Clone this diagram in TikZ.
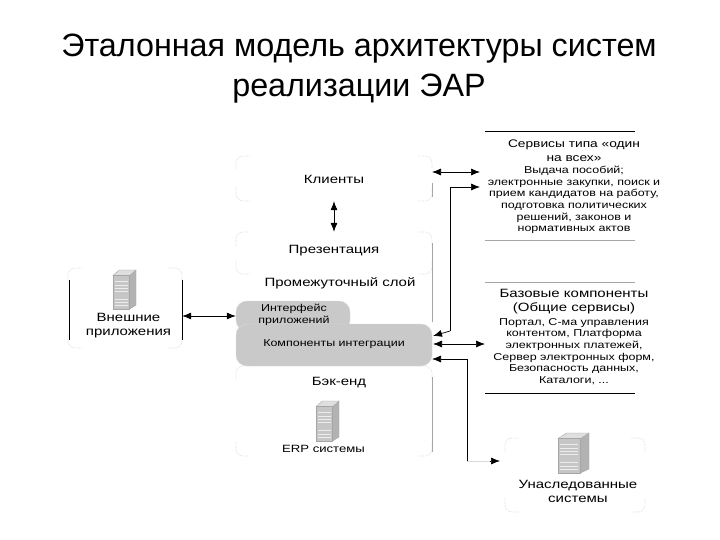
\documentclass[tikz,border=0pt]{standalone}
\usepackage{fontspec}
\setmainfont{Liberation Sans}
\newfontfamily\widefont[FakeStretch=1.25]{Liberation Sans}
\usetikzlibrary{arrows.meta}

\tikzset{
    area/.style={minimum width=#1, inner sep=0pt},
    label/.style={align=center, font=\widefont\fontsize{12}{14}\selectfont},
    small/.style={align=center, font=\widefont\fontsize{10}{11.7}\selectfont},
    fuzzy/.style={gray!30, densely dotted, line width=0.7pt, rounded corners=7pt},
    edge/.style={gray!70, line width=0.5pt},
    conn/.style={<->, line width=0.7pt},
    wire/.style={->, line width=0.7pt},
    rule/.style={line width=0.7pt},
    graybox/.style={fill=gray!42, draw=gray!30, rounded corners=11pt, inner sep=0pt},
    pics/server/.style 2 args={code={
        \begin{scope}[x=#1pt, y=#2pt]
        \fill[gray!60, draw=gray!70] (0.72,0) -- (1,0.1) -- (1,1) -- (0.72,0.86) -- cycle;
        \fill[gray!25, draw=gray!70] (0,0.86) -- (0.28,1) -- (1,1) -- (0.72,0.86) -- cycle;
        \fill[gray!45, draw=gray!70] (0,0) rectangle (0.72,0.86);
        \foreach \y in {0.1,0.18,0.26,0.46,0.54,0.62,0.72}
            \draw[gray!15, line width=0.6pt] (0.08,\y) -- (0.64,\y);
        \end{scope}
    }}
}
\newcommand{\fuzzycorners}[4]{%
    \draw[fuzzy] (#1,#2+14) -- (#1,#2) -- (#1+14,#2);
    \draw[fuzzy] (#3-14,#2) -- (#3,#2) -- (#3,#2+14);
    \draw[fuzzy] (#1,#4-14) -- (#1,#4) -- (#1+14,#4);
    \draw[fuzzy] (#3-14,#4) -- (#3,#4) -- (#3,#4-14);
}

\begin{document}
\begin{tikzpicture}[x=1pt, y=-1pt, >={Latex[length=9pt,width=7pt]}]
    \useasboundingbox (0,0) rectangle (720,540);
    \fill[white] (0,0) rectangle (720,540);

    % Title
    \node[align=center, font=\fontsize{32.3}{40}\selectfont] (title) at (359,69) {Эталонная модель архитектуры систем\\реализации ЭАР};

    % Clients and presentation
    \node[area=196pt, minimum height=45pt] (clients) at (334,178.5) {};
    \node[area=196pt, minimum height=42pt] (present) at (334,253) {};
    \fuzzycorners{236}{156}{432}{201}
    \fuzzycorners{236}{232}{432}{274}
    \node[label] (clientstext) at (334,179) {Клиенты};
    \node[label] (presenttext) at (334,251) {Презентация};
    \draw[conn] (clients.south) -- (present.north);
    \node[label] (middletext) at (340,283) {Промежуточный слой};

    % Gray blocks
    \node[graybox, minimum width=114pt, minimum height=30pt] (iface) at (293,316) {};
    \node[graybox, minimum width=196pt, minimum height=42pt] (integr) at (334,345) {};
    \node[small] (ifacetext) at (294,315) {Интерфейс\\приложений};
    \node[small] (integrtext) at (334,344) {Компоненты интеграции};

    % Back end
    \node[label] (backtext) at (339,383) {Бэк-енд};
    \pic (erp) at (316,441) {server={23}{40}};
    \node[align=center, font=\widefont\fontsize{10.5}{12}\selectfont] (erptext) at (323.5,448.5) {ERP системы};
    \fuzzycorners{236}{366}{432}{456}
    \draw[edge] (432,183) -- (432,197);
    \draw[edge] (432,243) -- (432,322);
    \draw[edge] (432,377) -- (432,452);

    % External applications
    \node[area=114pt, minimum height=72pt] (extern) at (125,316) {};
    \fuzzycorners{68}{268}{182}{348}
    \draw[line width=0.6pt] (69,280) -- (69,340);
    \draw[line width=0.6pt] (182,280) -- (182,340);
    \pic (extsrv) at (113,309) {server={23}{39}};
    \node[label] (externtext) at (128.5,326) {Внешние\\приложения};
    \draw[conn] (extern.east) -- (iface.west);

    % One-for-all services
    \node[area=150pt, minimum height=108pt] (services) at (560,186) {};
    \draw[rule] (485,131) -- (635,131);
    \draw[rule, gray!70] (485,240) -- (635,240);
    \node[align=center, font=\widefont\fontsize{11}{14}\selectfont] (servhead) at (574,151) {Сервисы типа «один\\на всех»};
    \node[small] (servbody) at (574,200) {Выдача пособий;\\электронные закупки, поиск и\\прием кандидатов на работу,\\подготовка политических\\решений, законов и\\нормативных актов};

    % Base components
    \node[area=150pt, minimum height=110pt] (base) at (560,337) {};
    \draw[rule, gray!70] (485,282) -- (635,282);
    \draw[rule] (485,393) -- (635,393);
    \node[label] (basehead) at (574,302) {Базовые компоненты\\(Общие сервисы)};
    \node[small] (basebody) at (574,351.5) {Портал, С-ма управления\\контентом, Платформа\\электронных платежей,\\Сервер электронных форм,\\Безопасность данных,\\Каталоги, ...};

    % Legacy systems
    \node[area=138pt, minimum height=74pt] (legacy) at (574,475) {};
    \fuzzycorners{505}{438}{645}{512}
    \pic (legsrv) at (558,473) {server={31}{40}};
    \node[label] (legacytext) at (578,491) {Унаследованные\\системы};

    % Connectors on the right
    \coordinate (servtop) at (480,172);
    \coordinate (servlow) at (480,187);
    \coordinate (bend) at (450,187);
    \coordinate (intup) at (433,336);
    \coordinate (intmid) at (433,344);
    \coordinate (basein) at (485,344);
    \coordinate (intlow) at (432,359);
    \coordinate (legin) at (500,461);
    \draw[conn] (432,172) -- (servtop);
    \draw[wire] (450,331) -- (intup);
    \draw[wire] (450,331) -- (bend) -- (servlow);
    \draw[conn] (intmid) -- (basein);
    \draw[line width=0.7pt] (467,359) -- (467,461);
    \draw[gray!30, line width=0.4pt] (467,461) -- (490,461);
    \draw[wire] (467,359) -- (intlow);
    \draw[wire] (490,461) -- (legin);
\end{tikzpicture}
\end{document}
